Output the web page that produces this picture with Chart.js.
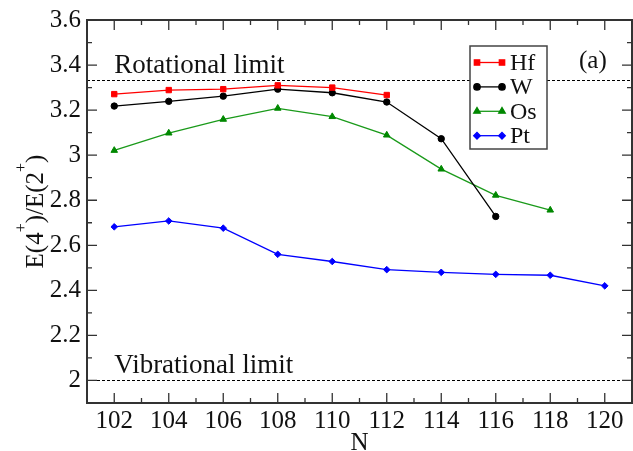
<!DOCTYPE html>
<html>
<head>
<meta charset="utf-8">
<script src="https://cdn.jsdelivr.net/npm/chart.js@4"></script>
<style>
  html, body { margin: 0; padding: 0; background: #fff; }
  #wrap { width: 633px; height: 451px; position: relative; }
</style>
</head>
<body>
<div id="wrap"><canvas id="c" width="633" height="451"></canvas></div>
<script>
// ---- data ----
const N_hf = [102, 104, 106, 108, 110, 112];
const hf   = [3.271, 3.289, 3.293, 3.310, 3.300, 3.267];
const N_w  = [102, 104, 106, 108, 110, 112, 114, 116];
const w    = [3.218, 3.239, 3.262, 3.293, 3.277, 3.236, 3.073, 2.728];
const N_os = [102, 104, 106, 108, 110, 112, 114, 116, 118];
const os   = [3.021, 3.098, 3.159, 3.208, 3.171, 3.089, 2.938, 2.822, 2.756];
const N_pt = [102, 104, 106, 108, 110, 112, 114, 116, 118, 120];
const pt   = [2.682, 2.708, 2.676, 2.560, 2.528, 2.492, 2.480, 2.471, 2.467, 2.420];
const xTicks = [102, 104, 106, 108, 110, 112, 114, 116, 118, 120];
const xMinor = [101, 103, 105, 107, 109, 111, 113, 115, 117, 119, 121];
const yTicks = [2, 2.2, 2.4, 2.6, 2.8, 3, 3.2, 3.4, 3.6];
const yTickLabels = ['2', '2.2', '2.4', '2.6', '2.8', '3', '3.2', '3.4', '3.6'];
const yMinor = [1.9, 2.1, 2.3, 2.5, 2.7, 2.9, 3.1, 3.3, 3.5];
const rotLimit = 10 / 3;
const vibLimit = 2;
const seriesNames = ['Hf', 'W', 'Os', 'Pt'];

const FONT = '"Liberation Serif", "DejaVu Serif", serif';
const FS = 25;
const ANN_FS = 27;
const LEG_FS = 24;

function pts(xs, ys) { return xs.map((x, i) => ({ x: x, y: ys[i] })); }

const framePlugin = {
  id: 'frame',
  afterDatasetsDraw(chart) {
    const { ctx, chartArea: a, scales: { x, y } } = chart;
    ctx.save();
    // reference lines
    ctx.strokeStyle = '#000';
    ctx.lineWidth = 1;
    ctx.setLineDash([3, 2]);
    [rotLimit, vibLimit].forEach(v => {
      const py = Math.round(y.getPixelForValue(v)) + 0.5;
      ctx.beginPath(); ctx.moveTo(a.left, py); ctx.lineTo(a.right, py); ctx.stroke();
    });
    ctx.setLineDash([]);
    // frame
    ctx.strokeStyle = '#333';
    ctx.lineWidth = 2;
    ctx.strokeRect(a.left, a.top, a.right - a.left, a.bottom - a.top);
    // ticks
    ctx.lineWidth = 1.3;
    ctx.beginPath();
    xTicks.forEach(v => { const px = x.getPixelForValue(v);
      ctx.moveTo(px, a.bottom); ctx.lineTo(px, a.bottom - 10);
      ctx.moveTo(px, a.top); ctx.lineTo(px, a.top + 10); });
    xMinor.forEach(v => { const px = x.getPixelForValue(v);
      ctx.moveTo(px, a.bottom); ctx.lineTo(px, a.bottom - 5);
      ctx.moveTo(px, a.top); ctx.lineTo(px, a.top + 5); });
    yTicks.forEach(v => { const py = y.getPixelForValue(v);
      ctx.moveTo(a.left, py); ctx.lineTo(a.left + 10, py);
      ctx.moveTo(a.right, py); ctx.lineTo(a.right - 10, py); });
    yMinor.forEach(v => { const py = y.getPixelForValue(v);
      ctx.moveTo(a.left, py); ctx.lineTo(a.left + 5, py);
      ctx.moveTo(a.right, py); ctx.lineTo(a.right - 5, py); });
    ctx.stroke();

    // annotations
    ctx.fillStyle = '#111';
    ctx.font = ANN_FS + 'px ' + FONT;
    ctx.textBaseline = 'alphabetic';
    ctx.textAlign = 'left';
    ctx.fillText('Rotational limit', x.getPixelForValue(102), y.getPixelForValue(rotLimit) - 7);
    ctx.fillText('Vibrational limit', x.getPixelForValue(102), y.getPixelForValue(vibLimit) - 7);
    ctx.font = FS + 'px ' + FONT;
    ctx.fillText('(a)', 579, 68);

    // legend
    const lx = 470, ly = 46, lw = 77, lh = 103;
    ctx.fillStyle = '#fff';
    ctx.fillRect(lx, ly, lw, lh);
    ctx.strokeStyle = '#444';
    ctx.lineWidth = 1.5;
    ctx.strokeRect(lx, ly, lw, lh);
    chart.data.datasets.forEach((ds, i) => {
      const cy = 62.5 + i * 24.4;
      ctx.strokeStyle = ds.borderColor;
      ctx.lineWidth = ds.borderWidth;
      ctx.beginPath(); ctx.moveTo(477, cy); ctx.lineTo(502, cy); ctx.stroke();
      ctx.fillStyle = ds.pointBackgroundColor;
      ctx.strokeStyle = ds.pointBorderColor;
      [477, 502].forEach(px => {
        Chart.helpers.drawPoint(ctx, {
          pointStyle: ds.pointStyle, radius: ds.pointRadius, borderWidth: 1, rotation: 0
        }, px, cy);
      });
      ctx.fillStyle = '#111';
      ctx.font = LEG_FS + 'px ' + FONT;
      ctx.textBaseline = 'middle';
      ctx.fillText(ds.label, 510, cy + 1);
    });
    ctx.restore();
  },
  afterDraw(chart) {
    const { ctx, chartArea: a } = chart;
    ctx.save();
    ctx.fillStyle = '#111';
    // x title
    ctx.font = FS + 'px ' + FONT;
    ctx.textAlign = 'center';
    ctx.textBaseline = 'alphabetic';
    ctx.fillText('N', (a.left + a.right) / 2, 450);
    // y title with superscripts
    ctx.translate(43, (a.top + a.bottom) / 2);
    ctx.rotate(-Math.PI / 2);
    const parts = [['E(4', 0], ['+', 1], [')/E(2', 0], ['+', 1], [')', 0]];
    const supFS = 16;
    let total = 0;
    parts.forEach(p => { ctx.font = (p[1] ? supFS : FS) + 'px ' + FONT; total += ctx.measureText(p[0]).width; });
    let cx = -total / 2;
    ctx.textAlign = 'left';
    parts.forEach(p => {
      ctx.font = (p[1] ? supFS : FS) + 'px ' + FONT;
      ctx.fillText(p[0], cx, p[1] ? -17 : 0);
      cx += ctx.measureText(p[0]).width;
    });
    ctx.restore();
  }
};

const common = { showLine: true, borderWidth: 1.3, pointBorderWidth: 1 };

new Chart(document.getElementById('c'), {
  type: 'scatter',
  data: {
    datasets: [
      Object.assign({}, common, { label: seriesNames[0], data: pts(N_hf, hf), borderColor: '#ff0000', backgroundColor: '#ff0000', pointBackgroundColor: '#ff0000', pointBorderColor: '#ff0000', pointStyle: 'rect', pointRadius: 3.8 }),
      Object.assign({}, common, { label: seriesNames[1], data: pts(N_w, w), borderColor: '#000000', backgroundColor: '#000000', pointBackgroundColor: '#000000', pointBorderColor: '#000000', pointStyle: 'circle', pointRadius: 3.2 }),
      Object.assign({}, common, { label: seriesNames[2], data: pts(N_os, os), borderColor: '#1a9a1a', backgroundColor: '#008800', pointBackgroundColor: '#008800', pointBorderColor: '#008800', pointStyle: 'triangle', pointRadius: 3.8 }),
      Object.assign({}, common, { label: seriesNames[3], data: pts(N_pt, pt), borderColor: '#0000ff', backgroundColor: '#0000ff', pointBackgroundColor: '#0000ff', pointBorderColor: '#0000ff', pointStyle: 'rectRot', pointRadius: 3.3 })
    ]
  },
  options: {
    responsive: false,
    animation: false,
    events: [],
    layout: { autoPadding: false, padding: { left: 0, top: 20, right: 1, bottom: 0 } },
    plugins: { legend: { display: false }, tooltip: { enabled: false } },
    scales: {
      x: {
        type: 'linear', min: 101, max: 121,
        afterBuildTicks: s => { s.ticks = xTicks.map(v => ({ value: v })); },
        afterFit: s => { s.height = 48; s.paddingLeft = 0; s.paddingRight = 0; },
        grid: { display: false, drawTicks: false },
        border: { display: false },
        ticks: { color: '#111', font: { family: FONT, size: FS }, padding: 3, maxRotation: 0, autoSkip: false,
                 callback: v => String(v) }
      },
      y: {
        type: 'linear', min: 1.9, max: 3.6,
        afterBuildTicks: s => { s.ticks = yTicks.map(v => ({ value: v })); },
        afterFit: s => { s.width = 87; s.paddingTop = 0; s.paddingBottom = 0; },
        grid: { display: false, drawTicks: false },
        border: { display: false },
        ticks: { color: '#111', font: { family: FONT, size: FS }, padding: 6, autoSkip: false,
                 callback: (v, i) => yTickLabels[yTicks.indexOf(v)] !== undefined ? yTickLabels[yTicks.indexOf(v)] : String(v) }
      }
    }
  },
  plugins: [framePlugin]
});
</script>
</body>
</html>
